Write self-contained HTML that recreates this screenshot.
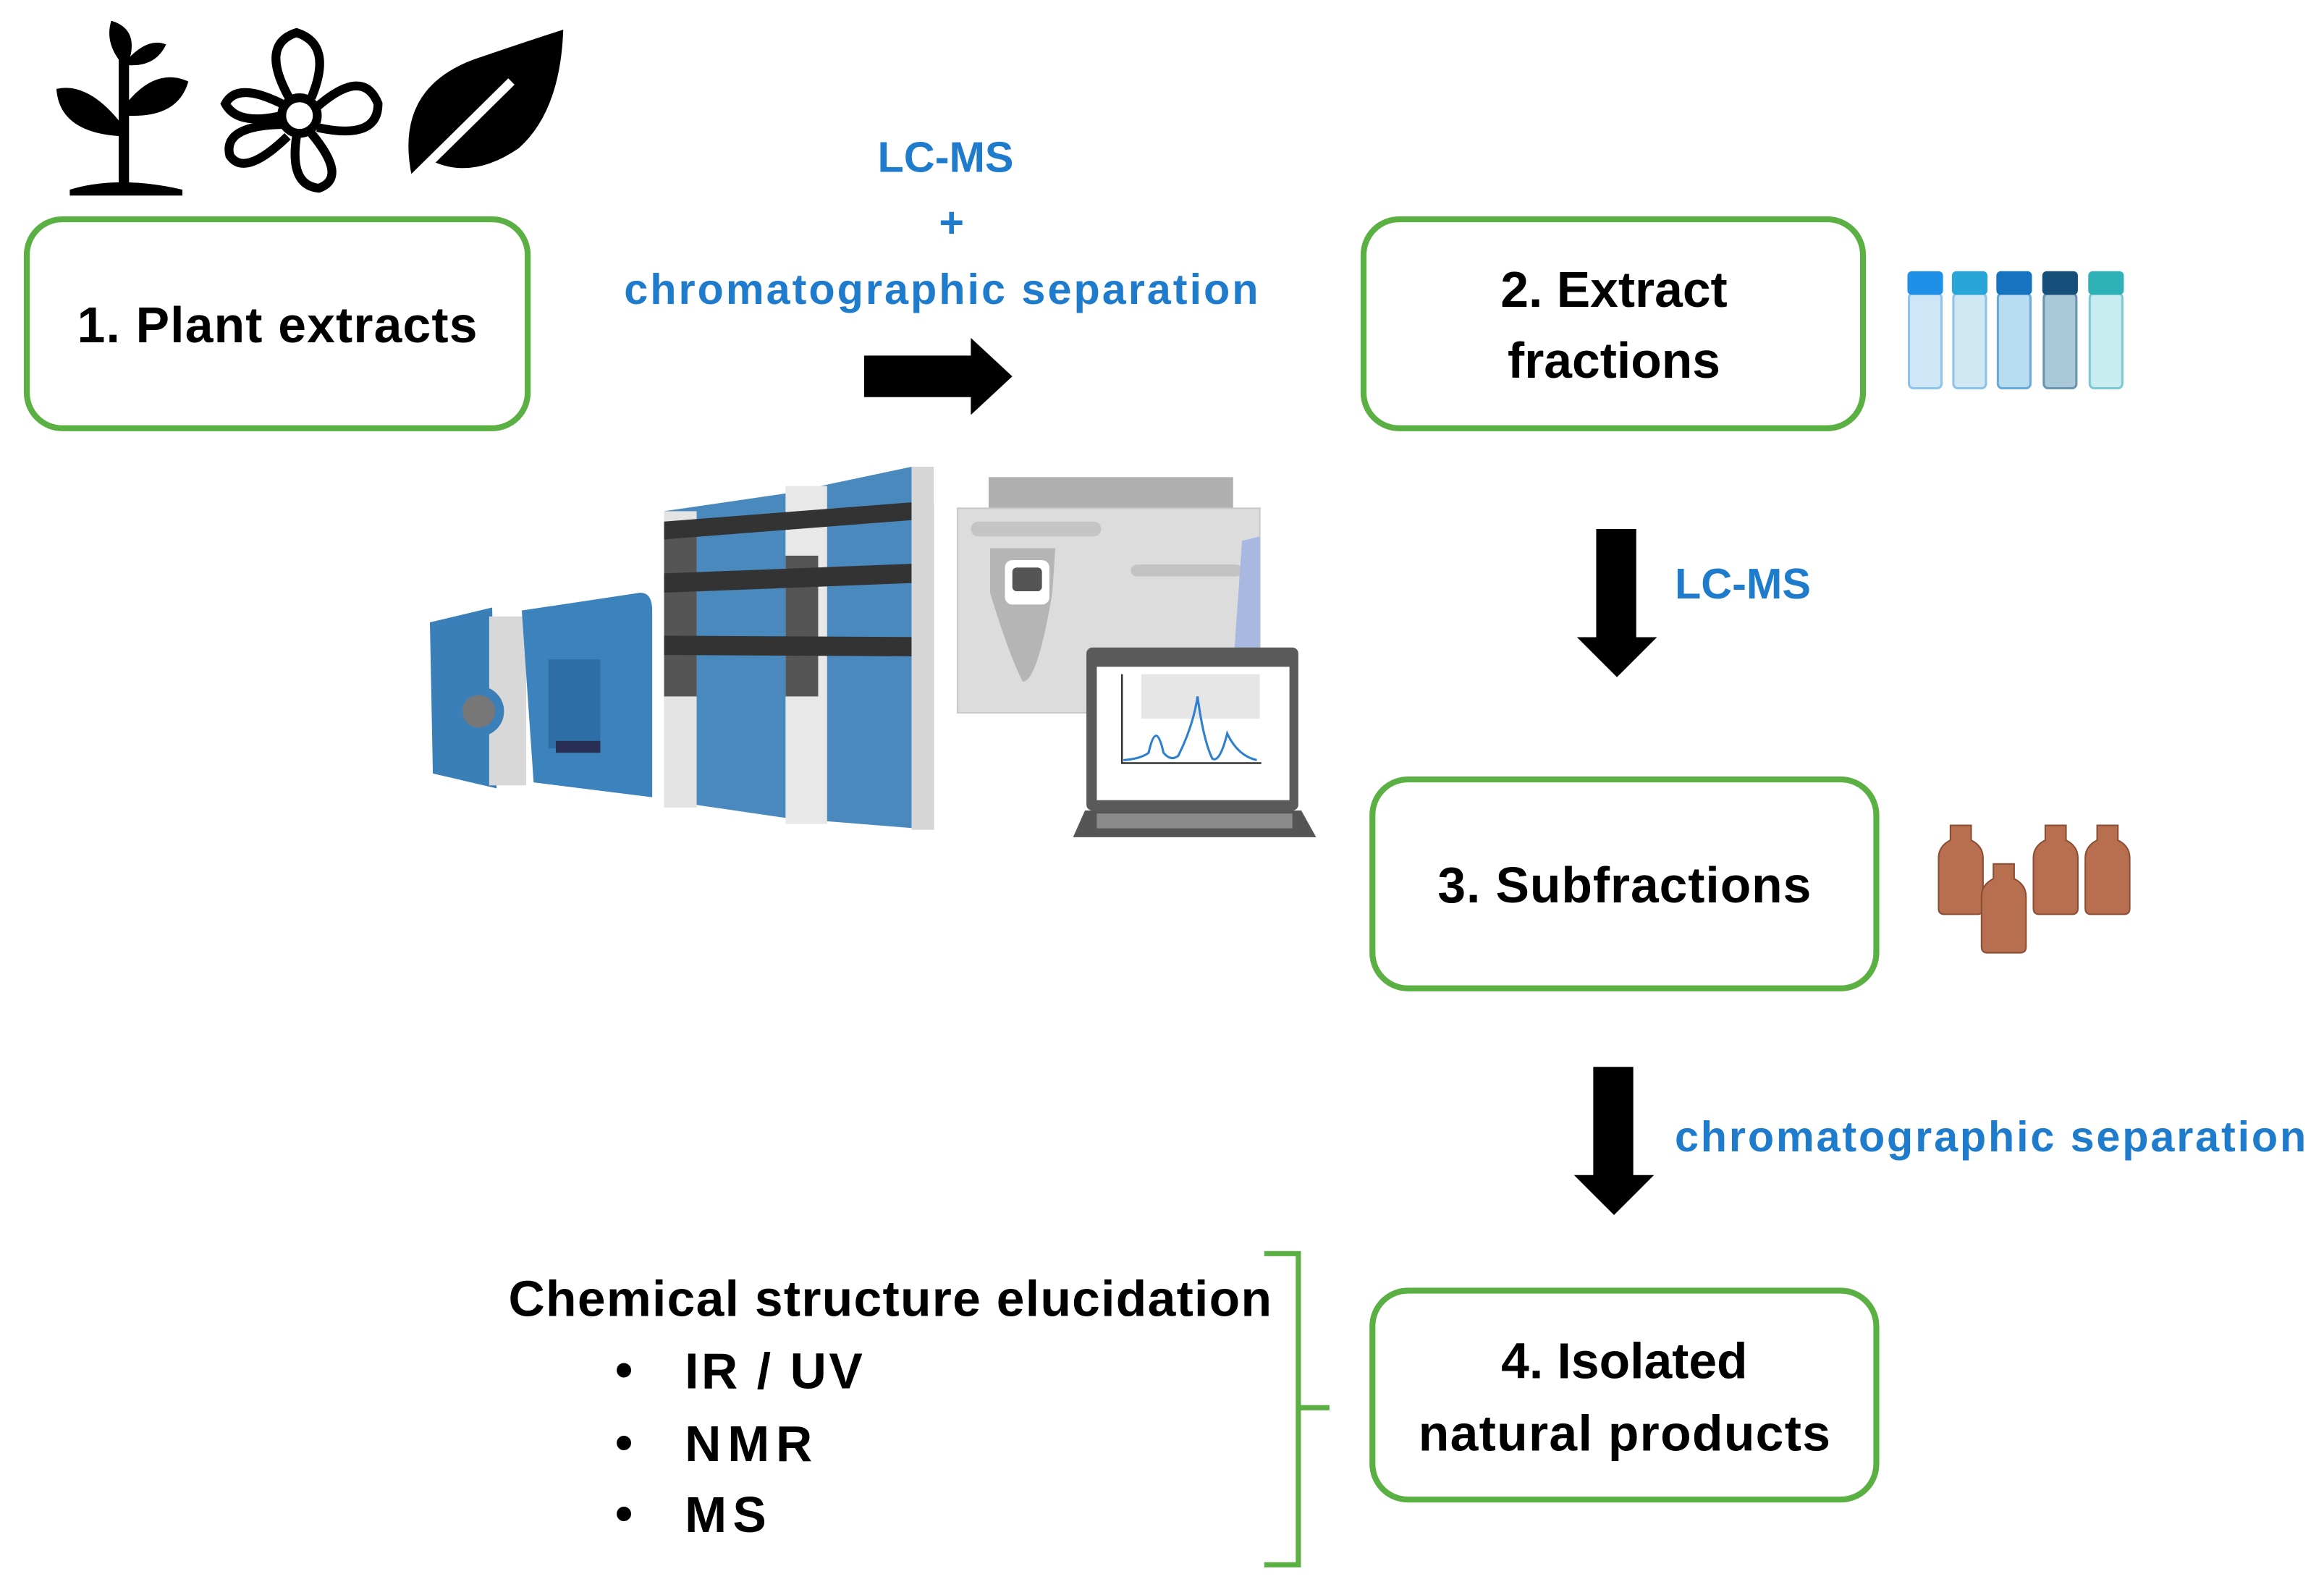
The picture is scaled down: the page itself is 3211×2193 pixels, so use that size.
<!DOCTYPE html>
<html><head><meta charset="utf-8"><style>
html,body{margin:0;padding:0;background:#fff;}
svg{display:block;}
text{font-family:"Liberation Sans",sans-serif;font-weight:bold;}
</style></head><body>
<svg width="3211" height="2193" viewBox="0 0 1568 1071" xmlns="http://www.w3.org/2000/svg">
<rect width="1568" height="1071" fill="#fff"/>
<!-- plant icons -->
<g fill="#000">
 <path d="M47 128 Q80 118 123 128 L123 132 L47 132Z"/>
 <rect x="80" y="40" width="7" height="86"/>
 <path d="M83 85 Q60 55 38 60 Q40 90 83 92Z"/>
 <path d="M85 70 Q105 45 127 55 Q120 80 85 78Z"/>
 <path d="M84 45 Q70 30 75 14 Q95 20 86 44Z"/>
 <path d="M86 40 Q100 25 112 30 Q105 45 87 44Z"/>
</g>
<g fill="none" stroke="#000" stroke-width="6">
 <circle cx="202" cy="78" r="12"/>
 <path d="M195 66 Q175 30 200 22 Q225 30 210 66"/>
 <path d="M214 72 Q245 45 255 70 Q255 95 214 86"/>
 <path d="M210 90 Q235 120 215 127 Q195 125 200 92"/>
 <path d="M194 92 Q165 120 155 105 Q150 85 190 84"/>
 <path d="M190 70 Q160 55 152 70 Q160 85 190 78"/>
</g>
<path d="M278 120 Q265 60 320 40 Q355 28 380 20 Q378 75 350 100 Q318 122 290 108Z" fill="#000"/>
<path d="M274 125 L345 55" stroke="#fff" stroke-width="6"/>
<!-- boxes -->
<g fill="#fff" stroke="#5bb043" stroke-width="4">
 <rect x="18" y="148" width="338" height="141" rx="24"/>
 <rect x="920" y="148" width="337" height="141" rx="24"/>
 <rect x="926" y="526" width="340" height="141" rx="24"/>
 <rect x="926" y="871" width="340" height="141" rx="24"/>
</g>
<g font-size="34" fill="#000" text-anchor="middle">
 <text x="187" y="231" textLength="270">1. Plant extracts</text>
 <text x="1089" y="207">2. Extract</text>
 <text x="1089" y="255">fractions</text>
 <text x="1096" y="609" textLength="252">3. Subfractions</text>
 <text x="1096" y="930">4. Isolated</text>
 <text x="1096" y="979" textLength="278">natural products</text>
</g>
<!-- blue labels -->
<g fill="#1f7ccc" font-size="29">
 <text x="638" y="116" text-anchor="middle">LC-MS</text>
 <text x="642" y="160" text-anchor="middle">+</text>
 <text x="635" y="205" text-anchor="middle" textLength="428">chromatographic separation</text>
 <text x="1130" y="404">LC-MS</text>
 <text x="1130" y="777" textLength="426">chromatographic separation</text>
</g>
<!-- arrows -->
<polygon points="583,240 655,240 655,228 683,254 655,280 655,268 583,268" fill="#000"/>
<polygon points="1077,357 1104,357 1104,430 1118,430 1091,457 1064,430 1077,430" fill="#000"/>
<polygon points="1075,720 1102,720 1102,793 1116,793 1089,820 1062,793 1075,793" fill="#000"/>
<!-- chemical structure -->
<g fill="#000" font-size="34">
 <text x="343" y="888" textLength="515">Chemical structure elucidation</text>
 <text x="415" y="936">•</text><text x="462" y="937" textLength="120">IR / UV</text>
 <text x="415" y="985">•</text><text x="462" y="986" textLength="86">NMR</text>
 <text x="415" y="1033">•</text><text x="462" y="1034" textLength="55">MS</text>
</g>
<path d="M853 846 L876 846 L876 950 L897 950 M876 950 L876 1056 L853 1056" fill="none" stroke="#5bb043" stroke-width="3.5"/>
<!-- vials -->
<g>
 <g transform="translate(1287,183)"><rect x="1" y="15" width="22" height="64" rx="3" fill="#cfe6f7" stroke="#8ec3ea" stroke-width="1.5"/><rect x="0" y="0" width="24" height="16" rx="3" fill="#1e90e8"/></g>
 <g transform="translate(1317,183)"><rect x="1" y="15" width="22" height="64" rx="3" fill="#cfe8f3" stroke="#8ec3ea" stroke-width="1.5"/><rect x="0" y="0" width="24" height="16" rx="3" fill="#2aa5d8"/></g>
 <g transform="translate(1347,183)"><rect x="1" y="15" width="22" height="64" rx="3" fill="#b8dcf2" stroke="#6aa9d8" stroke-width="1.5"/><rect x="0" y="0" width="24" height="16" rx="3" fill="#1673c0"/></g>
 <g transform="translate(1378,183)"><rect x="1" y="15" width="22" height="64" rx="3" fill="#a9c8d8" stroke="#6b94ad" stroke-width="1.5"/><rect x="0" y="0" width="24" height="16" rx="3" fill="#154f7a"/></g>
 <g transform="translate(1409,183)"><rect x="1" y="15" width="22" height="64" rx="3" fill="#c8ecef" stroke="#7cc9d2" stroke-width="1.5"/><rect x="0" y="0" width="24" height="16" rx="3" fill="#2eb2b8"/></g>
</g>
<!-- brown bottles -->
<g fill="#b76f4f" stroke="#8a4d33" stroke-width="1">
 <path d="M1316 557 h14 v10 q8 4 8 12 v34 q0 4 -4 4 h-22 q-4 0 -4 -4 v-34 q0 -8 8 -12z"/>
 <path d="M1345 583 h14 v10 q8 4 8 12 v34 q0 4 -4 4 h-22 q-4 0 -4 -4 v-34 q0 -8 8 -12z"/>
 <path d="M1380 557 h14 v10 q8 4 8 12 v34 q0 4 -4 4 h-22 q-4 0 -4 -4 v-34 q0 -8 8 -12z"/>
 <path d="M1415 557 h14 v10 q8 4 8 12 v34 q0 4 -4 4 h-22 q-4 0 -4 -4 v-34 q0 -8 8 -12z"/>
</g>
<!-- instrument: left MS -->
<path d="M290 420 L332 410 L335 532 L292 522Z" fill="#3a7fb8"/>
<rect x="330" y="416" width="25" height="114" fill="#d8d8d8"/>
<circle cx="323" cy="480" r="14" fill="#777" stroke="#3a7fb8" stroke-width="6"/>
<path d="M352 412 L432 400 Q440 400 440 412 L440 538 L360 528Z" fill="#3c82bc"/>
<rect x="370" y="445" width="35" height="60" fill="#2e6ea6"/>
<rect x="375" y="500" width="30" height="8" fill="#2a2f55"/>
<!-- HPLC stack -->
<path d="M448 345 L530 333 L530 552 L448 540Z" fill="#4a89bd"/>
<path d="M530 333 L615 315 L630 340 L630 560 L530 552Z" fill="#4a89bd"/>
<rect x="448" y="345" width="22" height="200" fill="#e4e4e4"/>
<rect x="530" y="328" width="28" height="228" fill="#e8e8e8"/>
<rect x="448" y="360" width="22" height="110" fill="#555"/>
<rect x="530" y="375" width="22" height="95" fill="#555"/>
<g fill="#333">
 <path d="M448 352 L628 338 L628 350 L448 364Z"/>
 <path d="M448 387 L628 380 L628 393 L448 400Z"/>
 <path d="M448 429 L628 430 L628 443 L448 442Z"/>
</g>
<rect x="615" y="315" width="15" height="245" fill="#d6d6d6"/>
<!-- gray MS -->
<rect x="667" y="322" width="165" height="22" fill="#b0b0b0"/>
<rect x="646" y="343" width="204" height="138" fill="#dcdcdc" stroke="#c8c8c8"/>
<circle cx="661" cy="357" r="4" fill="#e03535"/>
<rect x="655" y="352" width="88" height="10" rx="5" fill="#c5c5c5"/>
<path d="M668 370 L712 370 L710 400 Q700 460 690 460 Q680 440 668 400Z" fill="#b5b5b5"/>
<rect x="678" y="378" width="30" height="30" rx="5" fill="#fff"/>
<rect x="683" y="383" width="20" height="16" rx="3" fill="#555"/>
<rect x="763" y="381" width="75" height="8" rx="4" fill="#c2c2c2"/>
<path d="M838 365 L850 362 L850 470 L830 480Z" fill="#a8b8e0"/>
<!-- laptop -->
<rect x="733" y="437" width="143" height="110" rx="4" fill="#5a5a5a"/>
<rect x="740" y="450" width="130" height="90" fill="#fff"/>
<rect x="770" y="455" width="80" height="30" fill="#e6e6e6"/>
<path d="M757 455 L757 515 L851 515" fill="none" stroke="#333" stroke-width="1.2"/>
<path d="M758 513 Q770 512 775 508 Q780 485 785 508 Q790 514 795 510 Q805 490 808 470 Q812 500 818 512 Q823 515 828 495 Q835 510 848 513" fill="none" stroke="#2e7fcf" stroke-width="1.5"/>
<path d="M732 547 L878 547 L888 565 L724 565Z" fill="#555"/>
<rect x="740" y="549" width="132" height="10" fill="#8a8a8a"/>
</svg>
</body></html>
